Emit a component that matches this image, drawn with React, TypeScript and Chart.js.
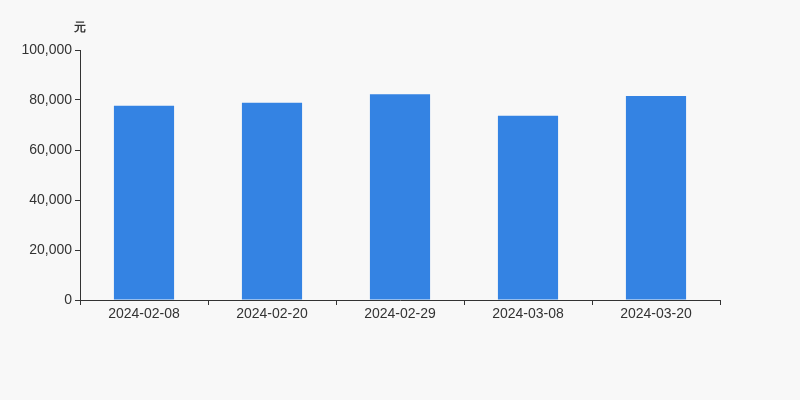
import { useEffect, useRef } from "react";
import { Chart, registerables } from "chart.js";

Chart.register(...registerables);

const categories = ["2024-02-08", "2024-02-20", "2024-02-29", "2024-03-08", "2024-03-20"];
const values = [77700, 78900, 82300, 73700, 81600];
const yTicks = [0, 20000, 40000, 60000, 80000, 100000];
const unitLabel = "元";

const FONT = "'Liberation Sans', Arial, sans-serif";

const unitPlugin = {
  id: "unitLabel",
  afterDraw(chart: Chart) {
    const { ctx, chartArea } = chart;
    ctx.save();
    ctx.font = `bold 12px ${FONT}`;
    ctx.fillStyle = "#333";
    ctx.textAlign = "center";
    ctx.textBaseline = "middle";
    ctx.fillText(unitLabel, chartArea.left, chartArea.top - 22);
    ctx.restore();
  },
};

export default function App() {
  const canvasRef = useRef<HTMLCanvasElement>(null);
  const chartRef = useRef<Chart | null>(null);

  useEffect(() => {
    document.body.style.margin = "0";
    document.body.style.background = "#f8f8f8";
    if (!canvasRef.current) return;
    if (chartRef.current) chartRef.current.destroy();

    chartRef.current = new Chart(canvasRef.current, {
      type: "bar",
      data: {
        labels: categories,
        datasets: [
          {
            data: values,
            backgroundColor: "#3483e3",
            barPercentage: 0.47,
            categoryPercentage: 1,
          },
        ],
      },
      options: {
        animation: false,
        responsive: false,
        layout: { padding: { top: 50, right: 80, left: 0, bottom: 0 } },
        plugins: {
          legend: { display: false },
          tooltip: { enabled: false },
        },
        scales: {
          x: {
            grid: {
              offset: true,
              drawOnChartArea: false,
              tickLength: 5,
              color: "#333",
            },
            border: { color: "#333" },
            ticks: {
              color: "#333",
              font: { family: FONT, size: 14 },
              padding: 1,
              maxRotation: 0,
            },
            afterFit: (scale: any) => {
              scale.height = 100;
            },
          },
          y: {
            min: 0,
            max: 100000,
            afterBuildTicks: (scale: any) => {
              scale.ticks = yTicks.map((v) => ({ value: v }));
            },
            grid: {
              drawOnChartArea: false,
              tickLength: 5,
              color: "#333",
            },
            border: { color: "#333" },
            ticks: {
              color: "#333",
              font: { family: FONT, size: 14 },
              padding: 3,
              callback: (v: any) => Number(v).toLocaleString("en-US"),
            },
            afterFit: (scale: any) => {
              scale.width = 80;
            },
          },
        },
      },
      plugins: [unitPlugin],
    });

    return () => {
      if (chartRef.current) chartRef.current.destroy();
      chartRef.current = null;
    };
  }, []);

  return (
    <div style={{ width: 800, height: 400, background: "#f8f8f8" }}>
      <canvas ref={canvasRef} width={800} height={400} />
    </div>
  );
}
